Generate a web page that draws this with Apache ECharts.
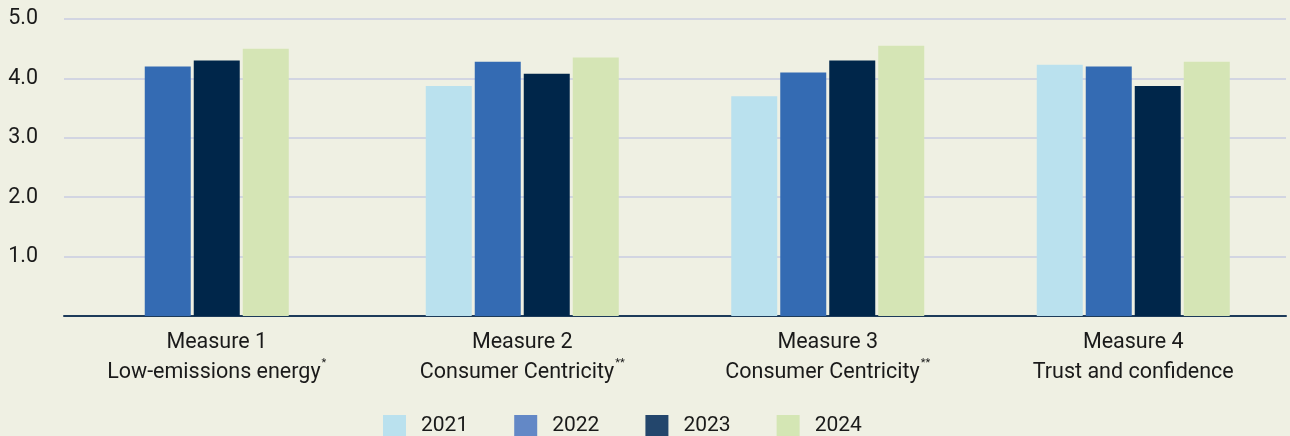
<!DOCTYPE html>
<html>
<head>
<meta charset="utf-8">
<script src="https://cdn.jsdelivr.net/npm/echarts@6/dist/echarts.min.js"></script>
<style>
html,body{margin:0;padding:0;background:#eff0e3;}
#chart{width:1290px;height:436px;}
</style>
</head>
<body>
<div id="chart"></div>
<script>
const categories = ['Measure 1', 'Measure 2', 'Measure 3', 'Measure 4'];
const subtitles = ['Low-emissions energy', 'Consumer Centricity', 'Consumer Centricity', 'Trust and confidence'];
const footnotes = ['*', '**', '**', ''];
const years = ['2021', '2022', '2023', '2024'];
const values2021 = [null, 3.87, 3.70, 4.23];
const values2022 = [4.20, 4.28, 4.10, 4.20];
const values2023 = [4.30, 4.08, 4.30, 3.87];
const values2024 = [4.50, 4.35, 4.55, 4.28];
const yTicks = [0, 1, 2, 3, 4, 5];

const barColors = ['#bae1ee', '#346bb3', '#00264a', '#d5e5b5'];
const legendColors = ['#bae1ee', '#6388c6', '#23466c', '#d4e6b4'];
const allValues = [values2021, values2022, values2023, values2024];

const BAR_W = 46, BAR_GAP = 3;

function makeSeries(si) {
  return {
    name: years[si],
    type: 'custom',
    itemStyle: { color: barColors[si] },
    encode: { x: 0, y: 1 },
    data: categories.map((c, i) => [i, allValues[si][i]]),
    renderItem: function (params, api) {
      const ci = api.value(0);
      const v = allValues[si][ci];
      if (v == null) return null;
      // bars present in this category (missing years take no slot)
      const present = [];
      for (let k = 0; k < allValues.length; k++) if (allValues[k][ci] != null) present.push(k);
      const pos = present.indexOf(si);
      const n = present.length;
      const groupW = n * BAR_W + (n - 1) * BAR_GAP;
      const center = api.coord([ci, 0]);
      const top = api.coord([ci, v]);
      const x = center[0] - groupW / 2 + pos * (BAR_W + BAR_GAP);
      return {
        type: 'rect',
        shape: { x: x, y: top[1], width: BAR_W, height: center[1] - top[1] },
        style: { fill: barColors[si] }
      };
    }
  };
}

const chart = echarts.init(document.getElementById('chart'), null, { renderer: 'canvas' });
chart.setOption({
  backgroundColor: '#eff0e3',
  animation: false,
  textStyle: { fontFamily: 'Roboto' },
  grid: { left: 64, right: 4, top: 19, bottom: 120, containLabel: false },
  legend: {
    left: 383,
    top: 415,
    padding: 0,
    itemWidth: 23,
    itemHeight: 22,
    itemGap: 46,
    icon: 'rect',
    selectedMode: false,
    textStyle: { fontFamily: 'Roboto', fontSize: 21, color: '#1a1a1a', padding: [3, 0, 0, 10] },
    data: years.map((y, i) => ({ name: y, itemStyle: { color: legendColors[i] } }))
  },
  xAxis: {
    type: 'category',
    data: categories,
    axisLine: { show: true, lineStyle: { color: '#1d3b5a', width: 2 } },
    axisTick: { show: false },
    axisLabel: {
      interval: 0,
      margin: 12,
      formatter: function (val, idx) {
        const fn = footnotes[idx] ? '{sup|' + footnotes[idx] + '}' : '';
        return '{main|' + val + '}\n{main|' + subtitles[idx] + '}' + fn;
      },
      rich: {
        main: { fontFamily: 'Roboto', fontSize: 21.5, color: '#1a1a1a', lineHeight: 30 },
        sup: { fontFamily: 'Roboto', fontSize: 11, color: '#1a1a1a', verticalAlign: 'top', lineHeight: 30, padding: [0, 0, 6, 1] }
      }
    },
    splitLine: { show: false }
  },
  yAxis: {
    type: 'value',
    min: yTicks[0],
    max: yTicks[yTicks.length - 1],
    interval: 1,
    axisLine: { show: false },
    axisTick: { show: false },
    axisLabel: {
      showMinLabel: false,
      margin: 26,
      fontFamily: 'Roboto',
      fontSize: 21.5,
      color: '#1a1a1a',
      formatter: v => v.toFixed(1)
    },
    splitLine: { lineStyle: { color: '#d2d5e2', width: 2 } }
  },
  series: years.map((y, i) => makeSeries(i))
});
</script>
</body>
</html>
